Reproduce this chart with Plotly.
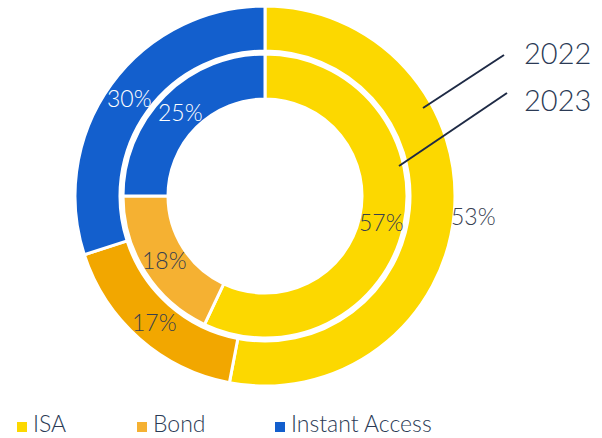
import math
import plotly.graph_objects as go

W, H = 602, 438

# Savings mix by product
categories = ["ISA", "Bond", "Instant Access"]
share_2022 = [53, 17, 30]
share_2023 = [57, 18, 25]
year_labels = ["2022", "2023"]

colors_2022 = ["#FCD800", "#F2A700", "#135FCD"]
colors_2023 = ["#FCD800", "#F5B132", "#135FCD"]
legend_colors = ["#FCD800", "#F5B132", "#135FCD"]
label_colors = ["#37404F", "#37404F", "#FFFFFF"]

# geometry in pixels
CX, CY = 265, 196
R_OUT, HOLE_OUT = 190, 145
R_IN, HOLE_IN = 142, 97
FONT = "Lato"
DARK = "#2B3A55"


def px_x(x):
    return x / W


def px_y(y):
    return 1 - y / H


def domain_for(r):
    return dict(x=[px_x(CX - r), px_x(CX + r)], y=[px_y(CY + r), px_y(CY - r)])


fig = go.Figure()
for vals, cols, r, hole, name in [
    (share_2022, colors_2022, R_OUT, HOLE_OUT, year_labels[0]),
    (share_2023, colors_2023, R_IN, HOLE_IN, year_labels[1]),
]:
    fig.add_trace(go.Pie(
        labels=categories, values=vals, name=name,
        marker=dict(colors=cols, line=dict(color="white", width=3)),
        hole=hole / r, domain=domain_for(r),
        sort=False, direction="clockwise", rotation=0,
        textinfo="none", hoverinfo="label+percent+name",
        showlegend=False,
    ))

annotations = []
shapes = []


def ring_labels(vals, r_mid, outside_radius=None, outside_idx=()):
    total = sum(vals)
    acc = 0
    for i, v in enumerate(vals):
        mid = (acc + v / 2) / total * 2 * math.pi
        acc += v
        r = outside_radius if i in outside_idx else r_mid
        x = CX + r * math.sin(mid)
        y = CY - r * math.cos(mid)
        annotations.append(dict(
            x=px_x(x), y=px_y(y), xref="paper", yref="paper",
            text=f"{v}%", showarrow=False,
            font=dict(family=FONT, size=23, color=label_colors[i], weight=300),
            xanchor="center", yanchor="middle",
        ))


ring_labels(share_2022, (R_OUT + HOLE_OUT) / 2, outside_radius=209, outside_idx=(0,))
ring_labels(share_2023, (R_IN + HOLE_IN) / 2)

# year call-outs
for label, (x0, y0, x1, y1), ty in [
    (year_labels[0], (423, 108, 504, 55), 52),
    (year_labels[1], (399, 166, 507, 93), 99),
]:
    shapes.append(dict(type="line", xref="paper", yref="paper",
                       x0=px_x(x0), y0=px_y(y0), x1=px_x(x1), y1=px_y(y1),
                       line=dict(color="#1E2A45", width=2)))
    annotations.append(dict(
        x=px_x(522), y=px_y(ty), xref="paper", yref="paper",
        text=label, showarrow=False, xanchor="left", yanchor="middle",
        font=dict(family=FONT, size=29, color=DARK, weight=300),
    ))

# legend row
legend_x = [17, 137, 275]
LEG_Y = 427
for cat, col, lx in zip(categories, legend_colors, legend_x):
    shapes.append(dict(type="rect", xref="paper", yref="paper",
                       x0=px_x(lx), x1=px_x(lx + 10),
                       y0=px_y(LEG_Y + 5), y1=px_y(LEG_Y - 5),
                       fillcolor=col, line=dict(width=0)))
    annotations.append(dict(
        x=px_x(lx + 15), y=0, xref="paper", yref="paper",
        text=cat, showarrow=False, xanchor="left", yanchor="bottom",
        borderpad=0, font=dict(family=FONT, size=23, color=DARK, weight=300),
    ))

fig.update_layout(
    width=W, height=H,
    margin=dict(l=0, r=0, t=0, b=0),
    paper_bgcolor="white", plot_bgcolor="white",
    annotations=annotations, shapes=shapes,
    showlegend=False,
)

fig.write_html("out.html")
